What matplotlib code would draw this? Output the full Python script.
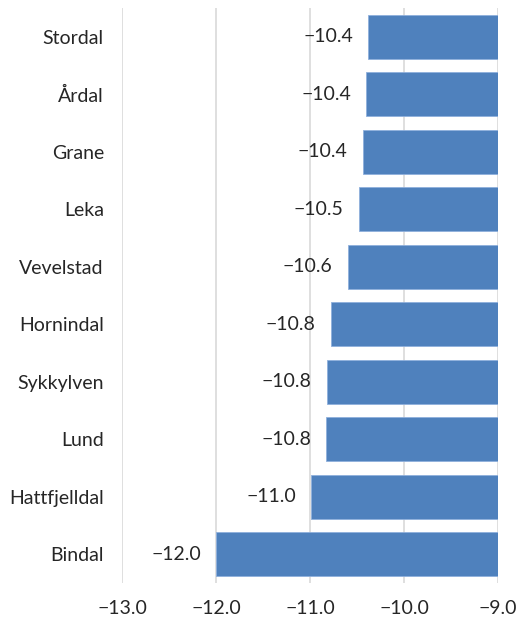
import matplotlib.pyplot as plt
import numpy as np

plt.rcParams['font.family'] = ['Lato', 'DejaVu Sans']

# municipalities, top to bottom
places = ['Stordal', 'Årdal', 'Grane', 'Leka', 'Vevelstad',
          'Hornindal', 'Sykkylven', 'Lund', 'Hattfjelldal', 'Bindal']
values = [-10.38, -10.40, -10.44, -10.48, -10.60,
          -10.78, -10.82, -10.83, -10.99, -12.00]
xticks = [-13.0, -12.0, -11.0, -10.0, -9.0]
base = -9.0  # bars grow leftwards from the axis at -9

def fmt(v):
    return f'{v:.1f}'.replace('-', '\u2212')

fig = plt.figure(figsize=(5.2, 6.21), dpi=100)
ax = fig.add_axes([0.2346, 0.0612, 0.7231, 0.9258])

y = np.arange(len(places))
widths = [v - base for v in values]
ax.barh(y, widths, left=base, height=0.77, color='#4f81bd',
        edgecolor='#8fb0dc', linewidth=0.6, zorder=3)

for yi, v in zip(y, values):
    ax.text(v - 0.16, yi, fmt(v), ha='right', va='center',
            fontsize=14, color='#262626', zorder=4)

ax.set_xlim(-13, -9)
ax.set_ylim(len(places) - 0.5, -0.5)
ax.set_xticks(xticks)
ax.set_xticklabels([fmt(t) for t in xticks])
ax.set_yticks(y)
ax.set_yticklabels(places)
ax.tick_params(axis='both', length=0, labelsize=14, colors='#262626')
ax.tick_params(axis='y', pad=13)
ax.tick_params(axis='x', pad=12)
ax.grid(axis='x', color='#d9d9d9', linewidth=1.2, zorder=0)
for s in ax.spines.values():
    s.set_visible(False)

fig.savefig('out.png', dpi=100)
